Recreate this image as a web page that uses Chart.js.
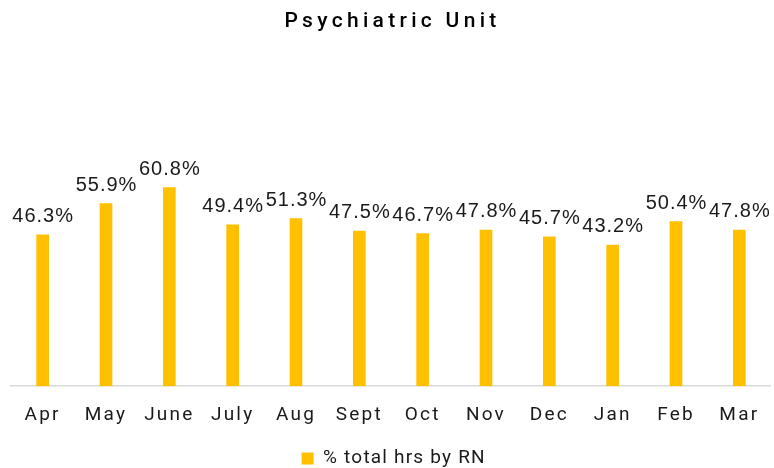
<!DOCTYPE html>
<html><head><meta charset="utf-8">
<script src="https://cdn.jsdelivr.net/npm/chart.js@4"></script>
<style>html,body{margin:0;padding:0;background:#fff;}#wrap{width:774px;height:468px;}</style>
</head><body><div id="wrap"><canvas id="c" width="774" height="468"></canvas></div>
<script>
const categories = ["Apr","May","June","July","Aug","Sept","Oct","Nov","Dec","Jan","Feb","Mar"];
const rnPercent = [46.3,55.9,60.8,49.4,51.3,47.5,46.7,47.8,45.7,43.2,50.4,47.8];
const seriesName = "% total hrs by RN";
const chartTitle = "Psychiatric Unit";

function withSpacing(obj, method, spacing, dx) {
  if (!obj || obj['_sp_' + method]) return;
  const orig = obj[method];
  obj[method] = function(...args) {
    const c = this.ctx;
    c.save();
    c.letterSpacing = spacing;
    if (dx) c.translate(dx, 0);
    const r = orig.apply(this, args);
    c.restore();
    return r;
  };
  obj['_sp_' + method] = true;
}

const spacingPlugin = {
  id: 'spacing',
  beforeDraw(chart) {
    withSpacing(chart.titleBlock, 'draw', '4.3px', 0);
    withSpacing(chart.legend, 'draw', '1.2px', -9);
    withSpacing(chart.scales.x, 'drawLabels', '2.2px', 0);
  }
};

const labelPlugin = {
  id: 'barLabels',
  afterDatasetsDraw(chart) {
    const ctx = chart.ctx;
    const meta = chart.getDatasetMeta(0);
    ctx.save();
    ctx.font = '20px "Liberation Sans", Arial, sans-serif';
    ctx.letterSpacing = '1px';
    ctx.fillStyle = '#1a1a1a';
    ctx.textAlign = 'center';
    ctx.textBaseline = 'alphabetic';
    meta.data.forEach((bar, i) => {
      ctx.fillText(rnPercent[i].toFixed(1) + '%', bar.x + 0.5, bar.y - 13);
    });
    ctx.restore();
  }
};

new Chart(document.getElementById('c'), {
  type: 'bar',
  data: {
    labels: categories,
    datasets: [{
      label: seriesName,
      data: rnPercent,
      backgroundColor: '#FFC000',
      borderWidth: 0,
      barThickness: 12
    }]
  },
  options: {
    responsive: false,
    animation: false,
    layout: { padding: { left: 11, right: 0, top: 0, bottom: -10 } },
    plugins: {
      title: {
        display: true,
        text: chartTitle,
        color: '#000',
        font: { family: 'Roboto, "Liberation Sans", sans-serif', size: 21, weight: '500' },
        padding: { top: 9.4, bottom: 122.9 }
      },
      legend: {
        position: 'bottom',
        labels: {
          color: '#1a1a1a',
          font: { family: 'Roboto, "Liberation Sans", sans-serif', size: 19 },
          boxWidth: 12, boxHeight: 12, padding: 4
        }
      },
      tooltip: { enabled: false }
    },
    scales: {
      x: {
        grid: { display: false, drawTicks: false },
        border: { display: true, color: '#d9d9d9', width: 1.5 },
        ticks: {
          color: '#1a1a1a',
          font: { family: 'Roboto, "Liberation Sans", sans-serif', size: 19 },
          padding: 18
        }
      },
      y: {
        display: false,
        min: 0,
        max: 70
      }
    }
  },
  plugins: [spacingPlugin, labelPlugin]
});
</script></body></html>
